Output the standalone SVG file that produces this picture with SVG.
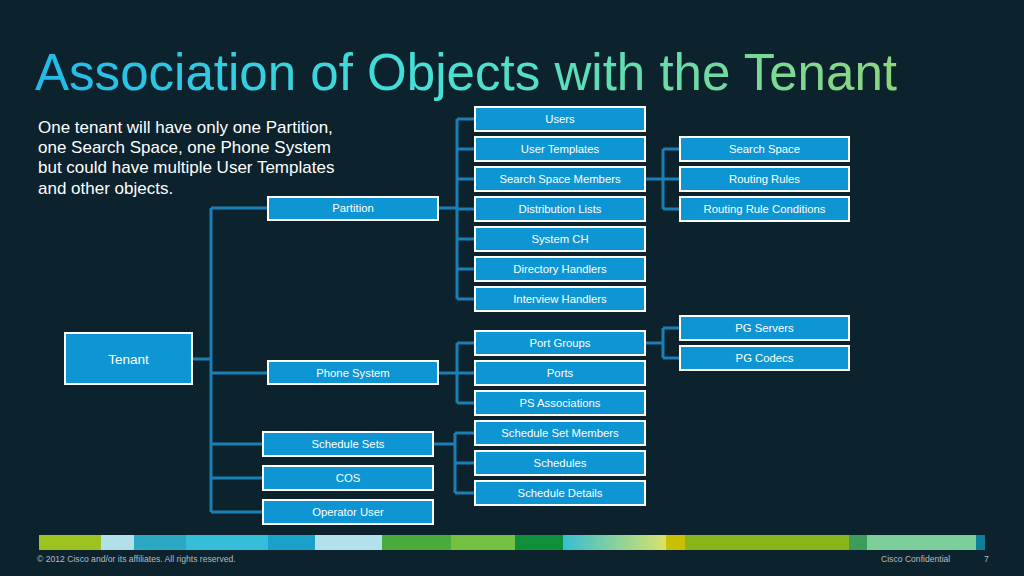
<svg xmlns="http://www.w3.org/2000/svg" width="1024" height="576" viewBox="0 0 1024 576">
<defs>
<linearGradient id="tg" x1="35" y1="0" x2="897" y2="0" gradientUnits="userSpaceOnUse">
<stop offset="0" stop-color="#22b9ea"/>
<stop offset="0.45" stop-color="#45e0d8"/>
<stop offset="1" stop-color="#8dd67c"/>
</linearGradient>
<linearGradient id="bg2" x1="0" y1="0" x2="1" y2="0">
<stop offset="0" stop-color="#36bfd2"/>
<stop offset="1" stop-color="#d8e26a"/>
</linearGradient>
<style>
.n rect{fill:#0e95d3;stroke:#ffffff;stroke-width:2}
.n text{fill:#ffffff;font-family:"Liberation Sans",Arial,sans-serif;font-size:11.3px;text-anchor:middle}
#connectors path{fill:none;stroke:#1a7fb5;stroke-width:3}
.ft{fill:#b4bcc0;font-family:"Liberation Sans",Arial,sans-serif;font-size:8.6px}
</style>
</defs>
<rect width="1024" height="576" fill="#0c222c"/>
<text x="35" y="90" font-family="'Liberation Sans',Arial,sans-serif" font-size="52" fill="url(#tg)" textLength="862" lengthAdjust="spacingAndGlyphs">Association of Objects with the Tenant</text>
<g font-family="'Liberation Sans',Arial,sans-serif" font-size="17" fill="#ffffff">
<text x="38" y="133">One tenant will have only one Partition,</text>
<text x="38" y="153">one Search Space, one Phone System</text>
<text x="38" y="173">but could have multiple User Templates</text>
<text x="38" y="194">and other objects.</text>
</g>
<g id="connectors">
<path d="M192 359H211M211 208V512M211 208H268M211 373H268M211 444H263M211 478H263M211 512H263"/>
<path d="M438 208H457M457 119V299M457 119H475M457 149H475M457 179H475M457 209H475M457 239H475M457 269H475M457 299H475"/>
<path d="M645 179H663M663 149V209M663 149H680M663 179H680M663 209H680"/>
<path d="M438 373H457M457 343V403M457 343H475M457 373H475M457 403H475"/>
<path d="M645 343H663M663 328V358M663 328H680M663 358H680"/>
<path d="M433 444H455M455 433V493M455 433H475M455 463H475M455 493H475"/>
</g>
<g id="tenant" class="n"><rect x="65" y="333" width="127" height="51"/><text x="128.5" y="364" style="font-size:13.5px">Tenant</text></g>
<g id="partition" class="n"><rect x="268" y="197" width="170" height="23"/><text x="353" y="212">Partition</text></g>
<g id="phone-system" class="n"><rect x="268" y="361" width="170" height="23"/><text x="353" y="376.5">Phone System</text></g>
<g id="schedule-sets" class="n"><rect x="263" y="432" width="170" height="24"/><text x="348" y="448">Schedule Sets</text></g>
<g id="cos" class="n"><rect x="263" y="466" width="170" height="24"/><text x="348" y="482">COS</text></g>
<g id="operator-user" class="n"><rect x="263" y="500" width="170" height="24"/><text x="348" y="516">Operator User</text></g>
<g id="users" class="n"><rect x="475" y="107" width="170" height="24"/><text x="560" y="123">Users</text></g>
<g id="user-templates" class="n"><rect x="475" y="137" width="170" height="24"/><text x="560" y="153">User Templates</text></g>
<g id="search-space-members" class="n"><rect x="475" y="167" width="170" height="24"/><text x="560" y="183">Search Space Members</text></g>
<g id="distribution-lists" class="n"><rect x="475" y="197" width="170" height="24"/><text x="560" y="213">Distribution Lists</text></g>
<g id="system-ch" class="n"><rect x="475" y="227" width="170" height="24"/><text x="560" y="243">System CH</text></g>
<g id="directory-handlers" class="n"><rect x="475" y="257" width="170" height="24"/><text x="560" y="273">Directory Handlers</text></g>
<g id="interview-handlers" class="n"><rect x="475" y="287" width="170" height="24"/><text x="560" y="303">Interview Handlers</text></g>
<g id="port-groups" class="n"><rect x="475" y="331" width="170" height="24"/><text x="560" y="347">Port Groups</text></g>
<g id="ports" class="n"><rect x="475" y="361" width="170" height="24"/><text x="560" y="377">Ports</text></g>
<g id="ps-associations" class="n"><rect x="475" y="391" width="170" height="24"/><text x="560" y="407">PS Associations</text></g>
<g id="schedule-set-members" class="n"><rect x="475" y="421" width="170" height="24"/><text x="560" y="437">Schedule Set Members</text></g>
<g id="schedules" class="n"><rect x="475" y="451" width="170" height="24"/><text x="560" y="467">Schedules</text></g>
<g id="schedule-details" class="n"><rect x="475" y="481" width="170" height="24"/><text x="560" y="497">Schedule Details</text></g>
<g id="search-space" class="n"><rect x="680" y="137" width="169" height="24"/><text x="764.5" y="153">Search Space</text></g>
<g id="routing-rules" class="n"><rect x="680" y="167" width="169" height="24"/><text x="764.5" y="183">Routing Rules</text></g>
<g id="routing-rule-conditions" class="n"><rect x="680" y="197" width="169" height="24"/><text x="764.5" y="213">Routing Rule Conditions</text></g>
<g id="pg-servers" class="n"><rect x="680" y="316" width="169" height="24"/><text x="764.5" y="332">PG Servers</text></g>
<g id="pg-codecs" class="n"><rect x="680" y="346" width="169" height="24"/><text x="764.5" y="362">PG Codecs</text></g>
<g id="footer-bar">
<rect x="39" y="535" width="62" height="15" fill="#9cc31f"/>
<rect x="101" y="535" width="33" height="15" fill="#b2e0e8"/>
<rect x="134" y="535" width="52" height="15" fill="#2ba8c2"/>
<rect x="186" y="535" width="82" height="15" fill="#36bdd9"/>
<rect x="268" y="535" width="47" height="15" fill="#1ba0c9"/>
<rect x="315" y="535" width="67" height="15" fill="#b1e1ea"/>
<rect x="382" y="535" width="69" height="15" fill="#4aab3c"/>
<rect x="451" y="535" width="64" height="15" fill="#74c043"/>
<rect x="515" y="535" width="48" height="15" fill="#0f8f3a"/>
<rect x="563" y="535" width="103" height="15" fill="url(#bg2)"/>
<rect x="666" y="535" width="19" height="15" fill="#c8c000"/>
<rect x="685" y="535" width="164" height="15" fill="#8ab51a"/>
<rect x="849" y="535" width="18" height="15" fill="#3a9e5a"/>
<rect x="867" y="535" width="109" height="15" fill="#7ccf9a"/>
<rect x="976" y="535" width="9" height="15" fill="#0e7f98"/>
</g>
<text class="ft" x="37" y="562">© 2012 Cisco and/or its affiliates. All rights reserved.</text>
<text class="ft" x="881" y="562">Cisco Confidential</text>
<text class="ft" x="984" y="562">7</text>
</svg>
